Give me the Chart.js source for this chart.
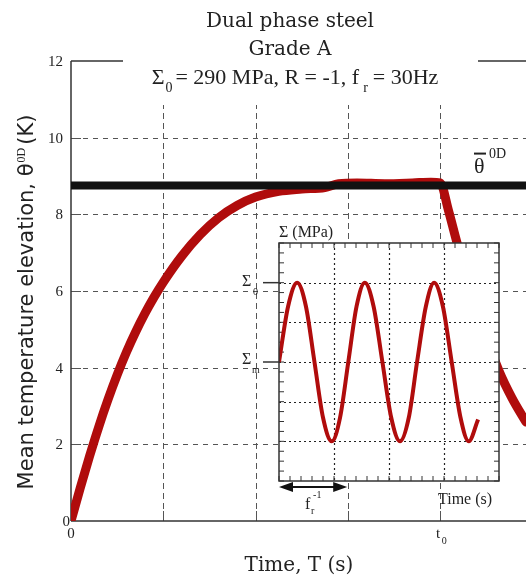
<!DOCTYPE html>
<html>
<head>
<meta charset="utf-8">
<script src="https://cdn.jsdelivr.net/npm/chart.js@4.4.0/dist/chart.umd.min.js"></script>
<style>
	body { margin: 0; background: #fff; }
	#wrap { position: relative; width: 526px; height: 581px; }
	#mainChart { position: absolute; left: 0; top: 0; }
	#insetChart { position: absolute; left: 230px; top: 215px; }
</style>
<title>Dual phase steel</title>
</head>
<body>
<div id="wrap">
	<canvas id="mainChart" width="526" height="581"></canvas>
	<canvas id="insetChart" width="290" height="305"></canvas>
</div>
<script>
// mean temperature elevation (K) against time, t0 sits on grid line 4
var timeT = [0, 0.1, 0.2, 0.3, 0.4, 0.5, 0.6, 0.7, 0.8, 0.9, 1.0, 1.2, 1.4, 1.6, 1.8, 2.0, 2.25, 2.5, 2.75, 2.9, 3.1, 3.4, 3.7, 3.9, 4.0, 4.09, 4.18, 4.4, 4.64, 4.78, 4.93];
var thetaK = [0, 0.86, 1.68, 2.45, 3.16, 3.81, 4.4, 4.93, 5.41, 5.84, 6.23, 6.91, 7.47, 7.91, 8.23, 8.45, 8.6, 8.66, 8.7, 8.8, 8.82, 8.8, 8.82, 8.84, 8.82, 8.1, 7.28, 5.5, 3.9, 3.2, 2.58];
var thetaMean = 8.75;
var timeMax = 4.93;
var yTicks = [0, 2, 4, 6, 8, 10, 12];
var xGrid = [1, 2, 3, 4];

// inset: imposed stress signal (grid units, mean = 0, amplitude = 2)
var sigTime = [0, 0.165, 0.33, 0.49, 0.645, 0.80, 0.96, 1.11, 1.26, 1.41, 1.56, 1.72, 1.88, 2.04, 2.2, 2.36, 2.51, 2.67, 2.82, 2.98, 3.14, 3.3, 3.45, 3.62];
var sigStress = [0, 1.4, 2, 1.4, 0, -1.4, -2, -1.4, 0, 1.4, 2, 1.4, 0, -1.4, -2, -1.4, 0, 1.4, 2, 1.4, 0, -1.4, -2, -1.45];
var sigPeriod = 1.24;

var RED = '#b00c0c';
var SERIF = '"Liberation Serif", serif';

function pts(xs, ys) {
	var out = [];
	for (var i = 0; i < xs.length; i++) out.push({ x: xs[i], y: ys[i] });
	return out;
}
function seg(ctx, x0, y0, x1, y1) {
	ctx.beginPath(); ctx.moveTo(x0, y0); ctx.lineTo(x1, y1); ctx.stroke();
}
function put(ctx, s, x, y, font, align) {
	ctx.font = font; ctx.textAlign = align || 'left'; ctx.textBaseline = 'alphabetic';
	ctx.fillText(s, x, y);
}
// draws a row of [text, font, dy, gap] pieces centred on cx
function row(ctx, parts, cx, y) {
	var w = 0;
	parts.forEach(function (p) { ctx.font = p[1]; w += ctx.measureText(p[0]).width + (p[3] || 0); });
	var x = cx - w / 2;
	parts.forEach(function (p) {
		put(ctx, p[0], x, y + (p[2] || 0), p[1]);
		ctx.font = p[1]; x += ctx.measureText(p[0]).width + (p[3] || 0);
	});
}

var mainDeco = {
	id: 'mainDeco',
	beforeDatasetsDraw: function (chart) {
		var ctx = chart.ctx, a = chart.chartArea, xs = chart.scales.x, ys = chart.scales.y;
		ctx.save();
		ctx.strokeStyle = '#555'; ctx.lineWidth = 1;
		yTicks.forEach(function (v) {
			if (v == 0 || v == 12) return;
			var y = Math.round(ys.getPixelForValue(v)) + 0.5;
			ctx.setLineDash([]); seg(ctx, a.left, y, a.left + 10, y);
			ctx.setLineDash([5, 5]); seg(ctx, a.left + 12, y, a.right, y);
		});
		xGrid.forEach(function (v) {
			var x = Math.round(xs.getPixelForValue(v)) + 0.5;
			ctx.setLineDash([]); seg(ctx, x, a.bottom, x, a.bottom - 10);
			ctx.setLineDash([6, 4]); seg(ctx, x, a.bottom - 12, x, 105);
		});
		ctx.setLineDash([]);
		ctx.strokeStyle = '#333'; ctx.lineWidth = 1.5;
		seg(ctx, a.left, a.top, a.left, a.bottom);
		seg(ctx, a.left, a.bottom, a.right, a.bottom);
		seg(ctx, a.left, a.top, 123, a.top);
		seg(ctx, 478, a.top, a.right, a.top);
		ctx.restore();
	},
	afterDraw: function (chart) {
		var ctx = chart.ctx, a = chart.chartArea, xs = chart.scales.x, ys = chart.scales.y;
		ctx.save();
		ctx.fillStyle = '#222';
		// y tick labels
		yTicks.forEach(function (v) {
			var y = ys.getPixelForValue(v) + 5;
			if (v == 0) put(ctx, '0', a.left - 1, y, '15px ' + SERIF, 'right');
			else put(ctx, String(v), a.left - 8, y, '15px ' + SERIF, 'right');
		});
		// x tick labels
		put(ctx, '0', xs.getPixelForValue(0), 538, '15px ' + SERIF, 'center');
		var t0 = xs.getPixelForValue(4);
		put(ctx, 't', t0 - 2, 538, '15px ' + SERIF, 'center');
		put(ctx, '0', t0 + 4, 544, '10px ' + SERIF, 'center');
		// titles
		put(ctx, 'Dual phase steel', 290, 27, '20px "DejaVu Serif"', 'center');
		put(ctx, 'Grade A', 290, 55, '20px "DejaVu Serif"', 'center');
		var big = '22px ' + SERIF, small = '14px ' + SERIF;
		row(ctx, [['Σ', big, 0, 1], ['0', small, 8, 3], ['= 290 MPa, R = -1, f', big, 0, 4], ['r', small, 8, 5], ['= 30Hz', big, 0]], 295, 84);
		put(ctx, 'Time, T (s)', 299, 571, '20px "DejaVu Serif"', 'center');
		// y title
		ctx.save();
		ctx.translate(33, 302);
		ctx.rotate(-Math.PI / 2);
		row(ctx, [['Mean temperature elevation, θ', '21px "DejaVu Sans"', 0, 1], ['0D', '12px ' + SERIF, -8, 3], ['(K)', '21px "DejaVu Sans"', 0]], 0, 0);
		ctx.restore();
		// mean level label
		var yl = ys.getPixelForValue(thetaMean);
		put(ctx, 'θ', 474, yl - 13, '22px ' + SERIF);
		ctx.fillRect(474, yl - 33, 12, 2);
		put(ctx, '0D', 489, yl - 28, '14px ' + SERIF);
		ctx.restore();
	}
};

new Chart(document.getElementById('mainChart'), {
	type: 'line',
	data: {
		datasets: [{
			data: pts([0, timeMax], [thetaMean, thetaMean]),
			borderColor: '#111', borderWidth: 8, pointRadius: 0, borderCapStyle: 'butt'
		}, {
			data: pts(timeT, thetaK),
			borderColor: RED, borderWidth: 9, pointRadius: 0,
			cubicInterpolationMode: 'monotone', borderCapStyle: 'round', borderJoinStyle: 'round'
		}]
	},
	options: {
		responsive: false, animation: false, events: [],
		layout: { padding: { left: 71, top: 61, right: 0, bottom: 60 } },
		plugins: { legend: { display: false }, tooltip: { enabled: false } },
		scales: {
			x: { type: 'linear', min: 0, max: timeMax, display: false },
			y: { min: 0, max: 12, display: false }
		}
	},
	plugins: [mainDeco]
});

var insetDeco = {
	id: 'insetDeco',
	beforeDatasetsDraw: function (chart) {
		var ctx = chart.ctx, a = chart.chartArea, xs = chart.scales.x, ys = chart.scales.y;
		ctx.save();
		ctx.fillStyle = '#fff';
		ctx.fillRect(a.left, a.top, a.right - a.left, a.bottom - a.top);
		ctx.strokeStyle = '#222'; ctx.lineWidth = 1.2; ctx.setLineDash([2, 3]);
		for (var i = 1; i < 4; i++) {
			var x = Math.round(xs.getPixelForValue(i)) + 0.5;
			seg(ctx, x, a.top, x, a.bottom);
		}
		for (var j = -2; j <= 2; j++) {
			var y = Math.round(ys.getPixelForValue(j)) + 0.5;
			seg(ctx, a.left, y, a.right, y);
		}
		// minor ticks pointing inward
		ctx.setLineDash([]); ctx.lineWidth = 1; ctx.strokeStyle = '#333';
		for (var k = 0; k <= 20; k++) {
			var tx = xs.getPixelForValue(k / 5);
			seg(ctx, tx, a.top, tx, a.top + 5);
			seg(ctx, tx, a.bottom, tx, a.bottom - 5);
		}
		for (var m = 0; m <= 24; m++) {
			var ty = ys.getPixelForValue(-3 + m / 4);
			seg(ctx, a.left, ty, a.left + 5, ty);
			seg(ctx, a.right, ty, a.right - 5, ty);
		}
		ctx.restore();
	},
	afterDraw: function (chart) {
		var ctx = chart.ctx, a = chart.chartArea, xs = chart.scales.x, ys = chart.scales.y;
		ctx.save();
		ctx.strokeStyle = '#333'; ctx.lineWidth = 1.5;
		ctx.strokeRect(a.left, a.top, a.right - a.left, a.bottom - a.top);
		// level markers for Sigma_0 and Sigma_m
		var y0 = ys.getPixelForValue(2), ym = ys.getPixelForValue(0);
		seg(ctx, a.left - 16, y0, a.left, y0);
		seg(ctx, a.left - 16, ym, a.left, ym);
		ctx.fillStyle = '#222';
		put(ctx, 'Σ', a.left - 37, y0 + 3, '16px ' + SERIF);
		put(ctx, '0', a.left - 26, y0 + 12, '10px ' + SERIF);
		put(ctx, 'Σ', a.left - 37, ym + 2, '16px ' + SERIF);
		put(ctx, 'm', a.left - 27, ym + 11, '10px ' + SERIF);
		put(ctx, 'Σ (MPa)', a.left, a.top - 6, '16px ' + SERIF);
		put(ctx, 'Time (s)', a.right - 61, a.bottom + 23, '16px ' + SERIF);
		// period arrow
		var ax0 = xs.getPixelForValue(0), ax1 = xs.getPixelForValue(sigPeriod), ay = a.bottom + 6;
		ctx.lineWidth = 2; ctx.strokeStyle = '#111';
		seg(ctx, ax0 + 8, ay, ax1 - 8, ay);
		ctx.beginPath();
		ctx.moveTo(ax0, ay); ctx.lineTo(ax0 + 14, ay - 5); ctx.lineTo(ax0 + 14, ay + 5); ctx.closePath();
		ctx.moveTo(ax1, ay); ctx.lineTo(ax1 - 14, ay - 5); ctx.lineTo(ax1 - 14, ay + 5); ctx.closePath();
		ctx.fillStyle = '#111'; ctx.fill();
		ctx.fillStyle = '#222';
		var fx = (ax0 + ax1) / 2 - 8;
		put(ctx, 'f', fx, ay + 22, '16px ' + SERIF);
		put(ctx, 'r', fx + 6, ay + 27, '10px ' + SERIF);
		put(ctx, '-1', fx + 8, ay + 11, '10px ' + SERIF);
		ctx.restore();
	}
};

new Chart(document.getElementById('insetChart'), {
	type: 'line',
	data: {
		datasets: [{
			data: pts(sigTime, sigStress),
			borderColor: RED, borderWidth: 4, pointRadius: 0,
			cubicInterpolationMode: 'monotone', borderCapStyle: 'butt'
		}]
	},
	options: {
		responsive: false, animation: false, events: [],
		layout: { padding: { left: 49, top: 28, right: 21, bottom: 39 } },
		plugins: { legend: { display: false }, tooltip: { enabled: false } },
		scales: {
			x: { type: 'linear', min: 0, max: 4, display: false },
			y: { min: -3, max: 3, display: false }
		}
	},
	plugins: [insetDeco]
});
</script>
</body>
</html>
